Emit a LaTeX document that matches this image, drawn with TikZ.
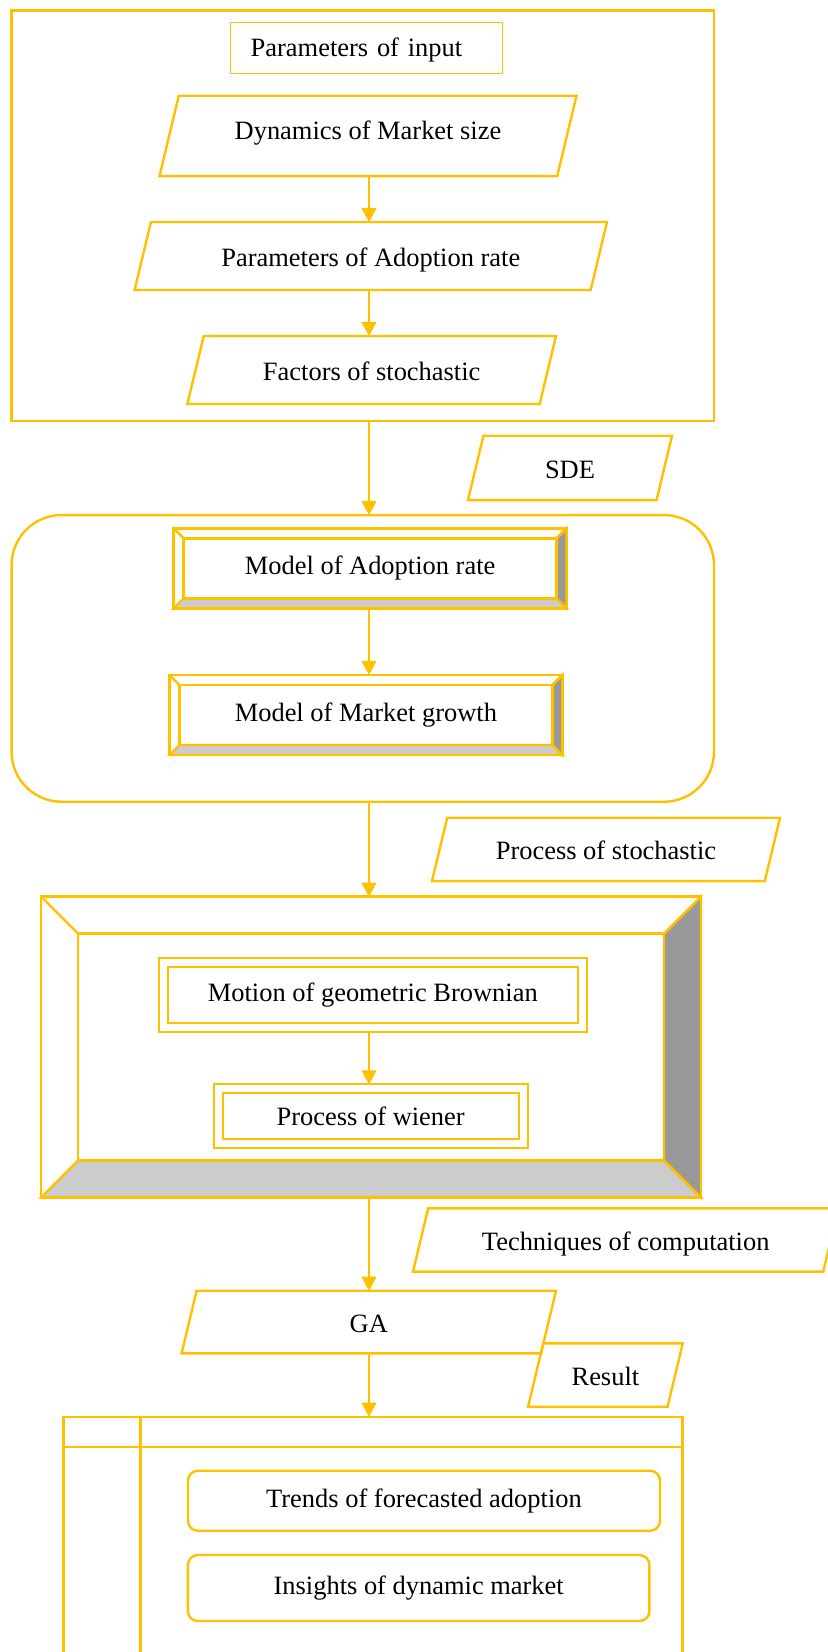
\documentclass[tikz,border=0pt]{standalone}
\usepackage{fontspec}
\setmainfont{Liberation Serif}
\usepackage{tikz}
\usetikzlibrary{shapes.geometric,arrows.meta}
\definecolor{gold}{HTML}{FFC000}
\definecolor{bevlight}{HTML}{CCCCCC}
\definecolor{bevdark}{HTML}{999999}
\def\pxu{0.4537}
\newcommand{\bevel}[2]{%
  \filldraw[bevline, fill=bevlight] (#1.south west) -- (#1.south east)
     -- ([shift={(-#2,-#2)}]#1.south east) -- ([shift={(#2,-#2)}]#1.south west) -- cycle;
  \filldraw[bevline, fill=bevdark] (#1.north east) -- (#1.south east)
     -- ([shift={(-#2,-#2)}]#1.south east) -- ([shift={(-#2,#2)}]#1.north east) -- cycle;
  \draw[bevline] ([shift={(#2,#2)}]#1.north west) rectangle ([shift={(-#2,-#2)}]#1.south east);
  \draw[bevline] (#1.north west) -- ([shift={(#2,#2)}]#1.north west);
  \draw[bevline] (#1.north east) -- ([shift={(-#2,#2)}]#1.north east);}

\begin{document}
\begin{tikzpicture}[x=\pxu pt, y=-\pxu pt, font=\fontsize{12}{14}\selectfont,
  box/.style={draw=gold, line width=1.1pt, inner sep=0pt, outer sep=0pt},
  wh/.style 2 args={minimum width=#1*\pxu pt, minimum height=#2*\pxu pt},
  pwh/.style 2 args={minimum width=#1*\pxu pt, inner ysep=(#2*\pxu pt-12pt)/2},
  para/.style={box, trapezium, trapezium left angle=76.5, trapezium right angle=103.5,
    trapezium stretches body, text height=10.8pt, text depth=1.2pt},
  dbl/.style={box, line width=0.9pt, double=white, double distance=3.2pt, outer sep=2pt},
  pill/.style={box, rounded corners=4.5pt},
  bevline/.style={draw=gold, line width=1.1pt},
  flow/.style={draw=gold, line width=0.55pt, -{Triangle[width=6.8pt,length=6.4pt]}}]

  \path[use as bounding box] (0,0) rectangle (828,1652);
  \clip (0,0) rectangle (828,1652);
  \coordinate (spine) at (369,0);

  % ---------- inputs ----------
  \node[box, line width=1.2pt, wh={702.4}{410.3}] (inputs) at (362.8,215.9) {};
  \node[box, line width=0.55pt, wh={272}{50.6}, text width=232*\pxu pt, align=left,
    text height=9.95pt, text depth=2.05pt] (inhdr) at (366.7,48) {Parameters of input};
  \node[para, pwh={417}{80.3}, text height=7.5pt, text depth=4.5pt] (dyn) at (368,135.9)
    {Dynamics of Market size};
  \node[para, pwh={472.4}{68}] (adopt) at (370.8,256) {Parameters of Adoption rate};
  \node[para, pwh={368.6}{68}] (factors) at (371.7,370) {Factors of stochastic};
  \draw[flow] (dyn.south -| spine) -- (adopt.north -| spine);
  \draw[flow] (adopt.south -| spine) -- (factors.north -| spine);

  % ---------- SDE models ----------
  \node[para, pwh={204}{64.3}] (sde) at (570,467.9) {SDE};
  \node[box, rounded corners=22.7pt, wh={702.4}{286.7}] (models) at (362.8,658.4) {};
  \node[box, wh={392.8}{80}] (madopt) at (370.1,568.3) {Model of Adoption rate};
  \node[box, wh={392.8}{80}] (mgrowth) at (365.9,715) {Model of Market growth};
  \bevel{madopt}{10}
  \bevel{mgrowth}{10}
  \draw[flow] (inputs.south -| spine) -- (models.north -| spine);
  \draw[flow] (madopt.south -| spine) -- (mgrowth.north -| spine);

  % ---------- stochastic process ----------
  \node[para, pwh={348}{63.3}] (pstoch) at (606,849.4) {Process of stochastic};
  \node[box, wh={659.8}{300.6}] (gbm) at (371.1,1047) {};
  \bevel{gbm}{37}
  \node[dbl, wh={418.6}{65}] (motion) at (372.8,994.7) {Motion of geometric Brownian};
  \node[dbl, wh={304.7}{54.4}] (wiener) at (370.7,1116) {Process of wiener};
  \draw[flow] (models.south -| spine) -- (gbm.north -| spine);
  \draw[flow] (motion.south -| spine) -- (wiener.north -| spine);

  % ---------- computation ----------
  \node[para, pwh={425.4}{63.2}] (techn) at (625.7,1240) {Techniques of computation};
  \node[para, pwh={374.4}{62.6}] (ga) at (368.8,1322) {GA};
  \node[para, pwh={154.7}{63.4}] (res) at (605.4,1375) {Result};
  \draw[flow] (gbm.south -| spine) -- (ga.north -| spine);

  % ---------- results lane ----------
  \node[box, wh={619.3}{283.3}] (outlane) at (373,1558.4) {};
  \draw[bevline] ([shift={(0,30.3)}]outlane.north west) -- ([shift={(0,30.3)}]outlane.north east);
  \draw[bevline] ([shift={(77.1,0)}]outlane.north west) -- ([shift={(77.1,0)}]outlane.south west);
  \node[pill, wh={472}{60}] (trends) at (424,1500.7) {Trends of forecasted adoption};
  \node[pill, wh={461.5}{66}] (insights) at (418.7,1588) {Insights of dynamic market};
  \draw[flow] (ga.south -| spine) -- (outlane.north -| spine);

\end{tikzpicture}
\end{document}
